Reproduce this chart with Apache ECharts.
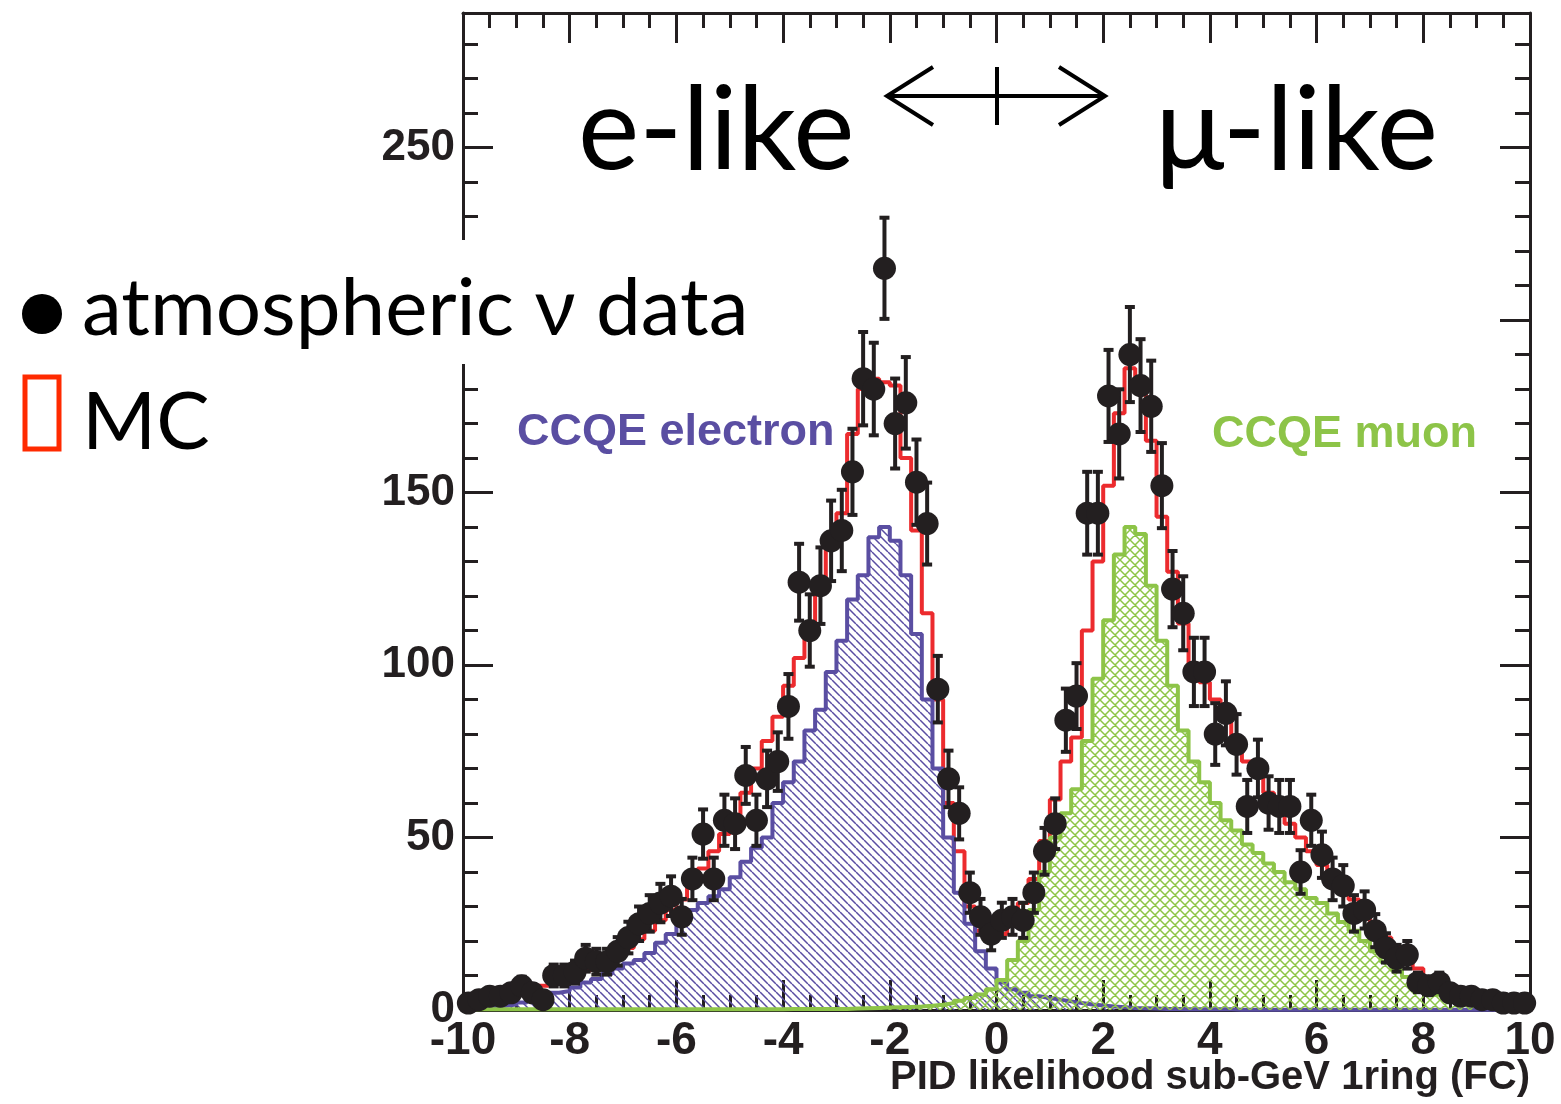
<!DOCTYPE html>
<html>
<head>
<meta charset="utf-8">
<script src="https://cdn.jsdelivr.net/npm/echarts@6/dist/echarts.min.js"></script>
<style>
html, body {margin: 0; padding: 0; background: #fff;}
#chart {width: 1561px; height: 1104px;}
</style>
</head>
<body>
<div id="chart"></div>
<script>
// 100 bins of width 0.2 from -10 to 10
const binLow = -10;
const binWidth = 0.2;

const dataCounts = [
  2, 3, 4, 4, 5, 7, 5, 3, 10, 10,
  11, 15, 14, 14, 17, 21, 25, 28, 31, 33,
  27, 38, 51, 38, 55, 54, 68, 55, 67, 72,
  88, 124, 110, 123, 136, 139, 156, 183, 180, 215,
  170, 176, 153, 141, 93, 67, 57, 34, 27, 22,
  26, 27, 26, 34, 46, 54, 84, 91, 144, 144,
  178, 167, 190, 181, 175, 152, 122, 115, 98, 98,
  80, 86, 77, 59, 70, 60, 59, 59, 40, 55,
  45, 38, 36, 28, 29, 23, 18, 15, 16, 8,
  7, 8, 5, 4, 4, 3, 3, 2, 2, 2
];

const mcTotal = [
  2, 2.5, 3, 3.5, 4.5, 5, 6, 7, 8, 9,
  10, 11.5, 13, 14.5, 16, 18, 20.5, 23, 26, 29,
  32, 36, 41, 46, 51, 56, 63, 70, 78, 85,
  94, 102, 112, 124, 135, 144, 167, 180, 183, 182,
  181, 160, 139, 115, 90, 60, 46, 30, 23, 20,
  22, 26, 31, 38, 49, 61, 72, 79, 110, 130,
  152, 173, 186, 182, 165, 143, 127, 112, 100, 95,
  90, 84, 79, 72, 68, 63, 59, 54, 50, 46,
  42, 38, 35, 32, 28, 25, 21, 18, 16, 12,
  9, 7, 5.5, 4.5, 3.5, 3, 2.5, 2, 1.5, 1
];

const ccqeElectron = [
  0.3, 0.5, 0.8, 1.2, 1.6, 2.2, 3, 4, 5, 5.5,
  6.5, 8, 9, 10.5, 12, 13.5, 14.5, 16.5, 19.5, 22,
  26, 29, 31, 33, 35, 38.5, 43, 47, 50, 60,
  66, 72, 81, 87, 98, 107, 119, 126, 137, 140,
  136, 126, 109, 90, 70, 50, 34, 25, 17, 12,
  8, 6, 5, 4, 3.5, 3, 2.5, 2, 1.6, 1.3,
  1, 0.8, 0.6, 0.5, 0.4, 0.3, 0.3, 0.2, 0.2, 0.2,
  0.2, 0.2, 0.1, 0.1, 0.1, 0.1, 0.1, 0.1, 0.1, 0.1,
  0.1, 0.1, 0.1, 0.1, 0.1, 0.1, 0.1, 0.1, 0.1, 0.1,
  0.1, 0.1, 0.1, 0.1, 0.1, 0.1, 0.1, 0.1, 0.1, 0.1
];

const ccqeMuon = [
  0.2, 0.2, 0.2, 0.2, 0.2, 0.2, 0.2, 0.2, 0.2, 0.2,
  0.2, 0.2, 0.2, 0.2, 0.2, 0.2, 0.2, 0.2, 0.2, 0.2,
  0.2, 0.2, 0.2, 0.2, 0.2, 0.2, 0.2, 0.2, 0.2, 0.2,
  0.3, 0.3, 0.3, 0.3, 0.3, 0.3, 0.4, 0.5, 0.6, 0.7,
  0.8, 0.9, 1.0, 1.2, 1.5, 2, 2.7, 3.5, 4.5, 6,
  8.7, 14.5, 20, 29, 40, 50, 57, 64, 78, 96,
  113, 132, 140, 138, 123, 107, 94, 81, 72, 66,
  60, 55, 52, 48, 45.5, 42.5, 40, 37, 35, 32.5,
  31, 28, 25.5, 23, 20, 17, 14, 11.6, 9.6, 7.8,
  5.8, 4.4, 3.5, 2.5, 2, 1.5, 1.2, 1, 0.8, 0.6
];

const ink = '#231f20';
const red = '#ec2b2e';
const blue = '#5a4ea2';
const green = '#8dc448';

// hatch fills like ROOT fill styles
function hatch(color, size, cross) {
  const c = document.createElement('canvas');
  c.width = c.height = size;
  const g = c.getContext('2d');
  g.strokeStyle = color;
  g.lineWidth = 1.5;
  g.beginPath();
  for (const k of [-size, 0, size]) {
    g.moveTo(k, 0); g.lineTo(k + size, size);
    if (cross) { g.moveTo(k, size); g.lineTo(k + size, 0); }
  }
  g.stroke();
  return c;
}

// step outline: left edge of each bin, plus the last right edge
const histLine = vals => vals.map((v, i) => [binLow + i * binWidth, v])
  .concat([[binLow + vals.length * binWidth, vals[vals.length - 1]]]);
const points = dataCounts.map((v, i) => [binLow + (i + 0.5) * binWidth, v, Math.sqrt(v)]);

const chart = echarts.init(document.getElementById('chart'));

const tickStyle = {color: ink, width: 3};
const numFont = {fontFamily: 'Liberation Sans', fontWeight: 'bold', color: ink};

const xBase = {
  type: 'value', min: -10, max: 10, interval: 2,
  axisLine: {onZero: false, lineStyle: {color: ink, width: 3}},
  axisTick: {inside: true, length: 30, lineStyle: tickStyle},
  minorTick: {show: true, splitNumber: 4, length: 15, lineStyle: tickStyle},
  splitLine: {show: false}
};
const yMajor = {
  type: 'value', min: 0, max: 289, interval: 50,
  axisLine: {onZero: false, lineStyle: {color: ink, width: 3}},
  axisTick: {inside: true, length: 30, lineStyle: tickStyle},
  splitLine: {show: false}
};
const yMinor = {
  type: 'value', min: 0, max: 289, interval: 10,
  axisLine: {show: false, onZero: false},
  axisTick: {inside: true, length: 15, lineStyle: tickStyle},
  axisLabel: {show: false},
  splitLine: {show: false}
};

const textFont = 'Lato, "Noto Sans", sans-serif';
const boldFont = '"Liberation Sans", Arial, sans-serif';

chart.setOption({
  animation: false,
  grid: {left: 463, right: 31, top: 13, bottom: 94, outerBoundsMode: 'none'},
  xAxis: [
    Object.assign({}, xBase, {position: 'bottom',
      axisLabel: Object.assign({fontSize: 46, margin: 8}, numFont)}),
    Object.assign({}, xBase, {position: 'top', axisLabel: {show: false}})
  ],
  yAxis: [
    Object.assign({}, yMajor, {position: 'left',
      axisLabel: Object.assign({fontSize: 44, margin: 8, showMaxLabel: false}, numFont)}),
    Object.assign({}, yMinor, {position: 'left'}),
    Object.assign({}, yMajor, {position: 'right', axisLabel: {show: false}}),
    Object.assign({}, yMinor, {position: 'right'})
  ],
  series: [
    {
      name: 'MC', type: 'line', step: 'end', symbol: 'none', z: 2,
      data: histLine(mcTotal),
      lineStyle: {color: red, width: 4}
    },
    {
      name: 'CCQE electron', type: 'line', step: 'end', symbol: 'none', z: 3,
      data: histLine(ccqeElectron),
      lineStyle: {color: blue, width: 4},
      areaStyle: {color: {image: hatch(blue, 8, false), repeat: 'repeat'}, opacity: 1}
    },
    {
      name: 'CCQE muon', type: 'line', step: 'end', symbol: 'none', z: 4,
      data: histLine(ccqeMuon),
      lineStyle: {color: green, width: 4},
      areaStyle: {color: {image: hatch(green, 10, true), repeat: 'repeat'}, opacity: 1}
    },
    {
      name: 'error', type: 'custom', z: 5, clip: true,
      data: points,
      renderItem: (params, api) => {
        const x = api.value(0), y = api.value(1), e = api.value(2);
        const top = api.coord([x, y + e]);
        const bot = api.coord([x, Math.max(0, y - e)]);
        const st = {fill: ink};
        return {type: 'group', children: [
          {type: 'rect', shape: {x: top[0] - 2, y: top[1], width: 4, height: bot[1] - top[1]}, style: st},
          {type: 'rect', shape: {x: top[0] - 5, y: top[1] - 2, width: 10, height: 4}, style: st},
          {type: 'rect', shape: {x: bot[0] - 5, y: bot[1] - 2, width: 10, height: 4}, style: st}
        ]};
      }
    },
    {
      name: 'atmospheric ν data', type: 'scatter', z: 6,
      data: points.map(p => [p[0], p[1]]),
      symbol: 'circle', symbolSize: 23,
      itemStyle: {color: ink, opacity: 1}
    }
  ],
  graphic: [
    {type: 'rect', z: 50, shape: {x: 0, y: 240, width: 500, height: 124}, style: {fill: '#fff'}},
    {type: 'circle', z: 51, shape: {cx: 42, cy: 314, r: 20}, style: {fill: '#000'}},
    {type: 'rect', z: 51, shape: {x: 25, y: 377, width: 34, height: 72}, style: {fill: 'none', stroke: '#ff2a00', lineWidth: 5}},
    {type: 'text', z: 51, style: {text: 'atmospheric ν data', x: 82, y: 349, font: '80px ' + textFont, fill: '#000', verticalAlign: 'bottom'}},
    {type: 'text', z: 51, style: {text: 'MC', x: 82, y: 463, font: '80px ' + textFont, fill: '#000', verticalAlign: 'bottom'}},
    {type: 'text', z: 51, style: {text: 'e-like', x: 578, y: 190, font: '116px ' + textFont, fill: '#000', verticalAlign: 'bottom'}},
    {type: 'text', z: 51, style: {text: 'μ-like', x: 1155, y: 190, font: '116px ' + textFont, fill: '#000', verticalAlign: 'bottom'}},
    {type: 'text', z: 51, style: {text: 'CCQE electron', x: 517, y: 433, font: 'bold 45px ' + boldFont, fill: blue, verticalAlign: 'middle'}},
    {type: 'text', z: 51, style: {text: 'CCQE muon', x: 1212, y: 435, font: 'bold 45px ' + boldFont, fill: green, verticalAlign: 'middle'}},
    {type: 'text', z: 51, style: {text: 'PID likelihood sub-GeV 1ring (FC)', x: 1530, y: 1078, font: 'bold 40px ' + boldFont, fill: ink, align: 'right', verticalAlign: 'middle'}},
    {type: 'polyline', z: 51, shape: {points: [[887, 96], [1105, 96]]}, style: {stroke: '#000', lineWidth: 4, fill: null}},
    {type: 'polyline', z: 51, shape: {points: [[933, 67], [887, 96], [933, 125]]}, style: {stroke: '#000', lineWidth: 4, fill: null}},
    {type: 'polyline', z: 51, shape: {points: [[1059, 67], [1105, 96], [1059, 125]]}, style: {stroke: '#000', lineWidth: 4, fill: null}},
    {type: 'polyline', z: 51, shape: {points: [[997, 67], [997, 125]]}, style: {stroke: '#000', lineWidth: 4, fill: null}}
  ]
});
</script>
</body>
</html>
